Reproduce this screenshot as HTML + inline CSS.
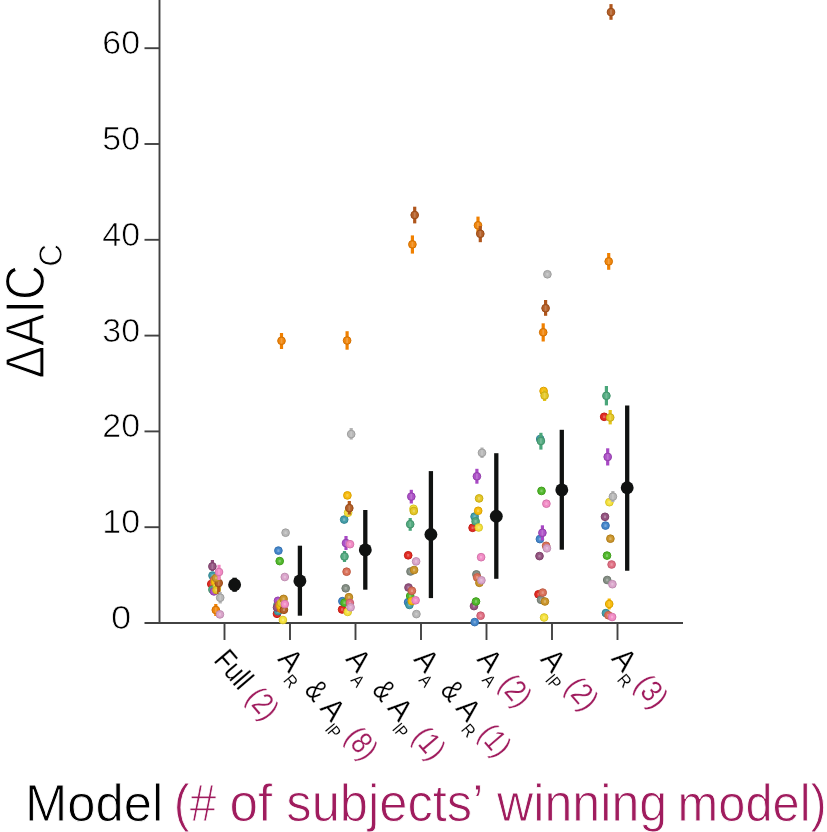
<!DOCTYPE html>
<html><head><meta charset="utf-8"><title>Model comparison</title>
<style>
html,body{margin:0;padding:0;background:#fff;}
svg{display:block;font-family:"Liberation Sans",sans-serif;}
.tk{font-size:33px;fill:#000;text-anchor:middle;stroke:#fff;stroke-width:0.7px;}
.xl{font-size:29px;fill:#000;}
.mg{fill:#a01c5e;}
</style></head><body>
<svg width="827" height="832" viewBox="0 0 827 832">
<rect width="827" height="832" fill="#fff"/>

<g stroke="#424242" stroke-width="1.9" fill="none">
<line x1="159.5" y1="0" x2="159.5" y2="623.9"/>
<line x1="144.5" y1="623.0" x2="683" y2="623.0"/>
<line x1="144.5" y1="527.2" x2="159.5" y2="527.2"/>
<line x1="144.5" y1="431.4" x2="159.5" y2="431.4"/>
<line x1="144.5" y1="335.6" x2="159.5" y2="335.6"/>
<line x1="144.5" y1="239.8" x2="159.5" y2="239.8"/>
<line x1="144.5" y1="144.0" x2="159.5" y2="144.0"/>
<line x1="144.5" y1="48.2" x2="159.5" y2="48.2"/>
<line x1="224.5" y1="623.0" x2="224.5" y2="640"/>
<line x1="290.0" y1="623.0" x2="290.0" y2="640"/>
<line x1="355.5" y1="623.0" x2="355.5" y2="640"/>
<line x1="421.0" y1="623.0" x2="421.0" y2="640"/>
<line x1="486.5" y1="623.0" x2="486.5" y2="640"/>
<line x1="552.0" y1="623.0" x2="552.0" y2="640"/>
<line x1="617.5" y1="623.0" x2="617.5" y2="640"/>
</g>
<text class="tk" x="121.2" y="628.9" textLength="20.2" lengthAdjust="spacingAndGlyphs">0</text>
<text class="tk" x="121.2" y="533.1" textLength="37.8" lengthAdjust="spacingAndGlyphs">10</text>
<text class="tk" x="121.2" y="437.3" textLength="37.8" lengthAdjust="spacingAndGlyphs">20</text>
<text class="tk" x="121.2" y="341.5" textLength="37.8" lengthAdjust="spacingAndGlyphs">30</text>
<text class="tk" x="121.2" y="245.7" textLength="37.8" lengthAdjust="spacingAndGlyphs">40</text>
<text class="tk" x="121.2" y="149.9" textLength="37.8" lengthAdjust="spacingAndGlyphs">50</text>
<text class="tk" x="121.2" y="54.1" textLength="37.8" lengthAdjust="spacingAndGlyphs">60</text>
<g stroke="#fff" stroke-width="1.2" fill="#000"><text transform="translate(44.2,378.4) rotate(-90)" font-size="56" textLength="113.5" lengthAdjust="spacingAndGlyphs">ΔAIC</text><text transform="translate(61.6,266.8) rotate(-90)" font-size="32.5" stroke-width="0.8" textLength="22.8" lengthAdjust="spacingAndGlyphs">C</text></g>
<g>
<circle cx="211.3" cy="584" r="3.85" fill="#e12d25" stroke="#c51c15" stroke-width="1"/>
<rect x="210.2" y="582.7" width="2.2" height="2.6" fill="#fff" fill-opacity="0.28"/>
<circle cx="277" cy="613.8" r="3.85" fill="#e12d25" stroke="#c51c15" stroke-width="1"/>
<rect x="275.9" y="612.5" width="2.2" height="2.6" fill="#fff" fill-opacity="0.28"/>
<circle cx="342.1" cy="609.5" r="3.85" fill="#e12d25" stroke="#c51c15" stroke-width="1"/>
<rect x="341.0" y="608.2" width="2.2" height="2.6" fill="#fff" fill-opacity="0.28"/>
<circle cx="408.2" cy="555.3" r="3.85" fill="#e12d25" stroke="#c51c15" stroke-width="1"/>
<rect x="407.1" y="554.0" width="2.2" height="2.6" fill="#fff" fill-opacity="0.28"/>
<circle cx="472.6" cy="527.8" r="3.85" fill="#e12d25" stroke="#c51c15" stroke-width="1"/>
<rect x="471.5" y="526.5" width="2.2" height="2.6" fill="#fff" fill-opacity="0.28"/>
<circle cx="538.5" cy="594.3" r="3.85" fill="#e12d25" stroke="#c51c15" stroke-width="1"/>
<rect x="537.4" y="593.0" width="2.2" height="2.6" fill="#fff" fill-opacity="0.28"/>
<circle cx="604.2" cy="416.8" r="3.85" fill="#e12d25" stroke="#c51c15" stroke-width="1"/>
<rect x="603.1" y="415.5" width="2.2" height="2.6" fill="#fff" fill-opacity="0.28"/>
<circle cx="278.4" cy="550.6" r="3.85" fill="#4587cb" stroke="#3370b0" stroke-width="1"/>
<rect x="277.3" y="549.3" width="2.2" height="2.6" fill="#fff" fill-opacity="0.28"/>
<circle cx="342.4" cy="601.2" r="3.85" fill="#4587cb" stroke="#3370b0" stroke-width="1"/>
<rect x="341.3" y="599.9" width="2.2" height="2.6" fill="#fff" fill-opacity="0.28"/>
<circle cx="408.1" cy="602.2" r="3.85" fill="#4587cb" stroke="#3370b0" stroke-width="1"/>
<rect x="407.0" y="600.9" width="2.2" height="2.6" fill="#fff" fill-opacity="0.28"/>
<circle cx="474.7" cy="622.1" r="3.85" fill="#4587cb" stroke="#3370b0" stroke-width="1"/>
<rect x="473.6" y="620.8" width="2.2" height="2.6" fill="#fff" fill-opacity="0.28"/>
<circle cx="539.9" cy="539.1" r="3.85" fill="#4587cb" stroke="#3370b0" stroke-width="1"/>
<rect x="538.8" y="537.8" width="2.2" height="2.6" fill="#fff" fill-opacity="0.28"/>
<circle cx="605.5" cy="525.6" r="3.85" fill="#4587cb" stroke="#3370b0" stroke-width="1"/>
<rect x="604.4" y="524.3" width="2.2" height="2.6" fill="#fff" fill-opacity="0.28"/>
<circle cx="212.5" cy="575.5" r="3.85" fill="#459ea9" stroke="#338590" stroke-width="1"/>
<rect x="211.4" y="574.2" width="2.2" height="2.6" fill="#fff" fill-opacity="0.28"/>
<circle cx="278.1" cy="611.2" r="3.85" fill="#459ea9" stroke="#338590" stroke-width="1"/>
<rect x="277.0" y="609.9" width="2.2" height="2.6" fill="#fff" fill-opacity="0.28"/>
<circle cx="344.2" cy="519.6" r="3.85" fill="#459ea9" stroke="#338590" stroke-width="1"/>
<rect x="343.1" y="518.3" width="2.2" height="2.6" fill="#fff" fill-opacity="0.28"/>
<circle cx="409.4" cy="604.9" r="3.85" fill="#459ea9" stroke="#338590" stroke-width="1"/>
<rect x="408.3" y="603.6" width="2.2" height="2.6" fill="#fff" fill-opacity="0.28"/>
<circle cx="474.6" cy="516.6" r="3.85" fill="#459ea9" stroke="#338590" stroke-width="1"/>
<rect x="473.5" y="515.3" width="2.2" height="2.6" fill="#fff" fill-opacity="0.28"/>
<circle cx="540.2" cy="439" r="3.85" fill="#459ea9" stroke="#338590" stroke-width="1"/>
<rect x="539.1" y="437.7" width="2.2" height="2.6" fill="#fff" fill-opacity="0.28"/>
<circle cx="605.9" cy="613.1" r="3.85" fill="#459ea9" stroke="#338590" stroke-width="1"/>
<rect x="604.8" y="611.8" width="2.2" height="2.6" fill="#fff" fill-opacity="0.28"/>
<circle cx="212.4" cy="589.6" r="3.85" fill="#54ab81" stroke="#41926b" stroke-width="1"/>
<rect x="211.3" y="588.3" width="2.2" height="2.6" fill="#fff" fill-opacity="0.28"/>
<circle cx="277.6" cy="604.5" r="3.85" fill="#54ab81" stroke="#41926b" stroke-width="1"/>
<rect x="276.5" y="603.2" width="2.2" height="2.6" fill="#fff" fill-opacity="0.28"/>
<line x1="344.5" y1="551" x2="344.5" y2="562" stroke="#4aa67a" stroke-width="3.2"/>
<circle cx="344.5" cy="556.5" r="3.85" fill="#54ab81" stroke="#41926b" stroke-width="1"/>
<rect x="343.6" y="553.9" width="1.8" height="5.2" fill="#fff" fill-opacity="0.2"/>
<line x1="410.2" y1="518" x2="410.2" y2="530.8" stroke="#4aa67a" stroke-width="3.2"/>
<circle cx="410.2" cy="524.2" r="3.85" fill="#54ab81" stroke="#41926b" stroke-width="1"/>
<rect x="409.3" y="521.6" width="1.8" height="5.2" fill="#fff" fill-opacity="0.2"/>
<circle cx="475.6" cy="521.4" r="3.85" fill="#54ab81" stroke="#41926b" stroke-width="1"/>
<rect x="474.5" y="520.1" width="2.2" height="2.6" fill="#fff" fill-opacity="0.28"/>
<line x1="540.9" y1="432.8" x2="540.9" y2="449.6" stroke="#4aa67a" stroke-width="3.2"/>
<circle cx="540.9" cy="441" r="3.85" fill="#54ab81" stroke="#41926b" stroke-width="1"/>
<rect x="540.0" y="438.4" width="1.8" height="5.2" fill="#fff" fill-opacity="0.2"/>
<line x1="606.4" y1="386" x2="606.4" y2="405.4" stroke="#4aa67a" stroke-width="3.2"/>
<circle cx="606.4" cy="395.8" r="3.85" fill="#54ab81" stroke="#41926b" stroke-width="1"/>
<rect x="605.5" y="393.2" width="1.8" height="5.2" fill="#fff" fill-opacity="0.2"/>
<line x1="212.4" y1="560" x2="212.4" y2="571" stroke="#8e4a78" stroke-width="3.2"/>
<circle cx="212.4" cy="566.4" r="3.85" fill="#945480" stroke="#7c4169" stroke-width="1"/>
<rect x="211.5" y="563.8" width="1.8" height="5.2" fill="#fff" fill-opacity="0.2"/>
<circle cx="277" cy="607.5" r="3.85" fill="#945480" stroke="#7c4169" stroke-width="1"/>
<rect x="275.9" y="606.2" width="2.2" height="2.6" fill="#fff" fill-opacity="0.28"/>
<circle cx="408.5" cy="587.5" r="3.85" fill="#945480" stroke="#7c4169" stroke-width="1"/>
<rect x="407.4" y="586.2" width="2.2" height="2.6" fill="#fff" fill-opacity="0.28"/>
<circle cx="474" cy="606.1" r="3.85" fill="#945480" stroke="#7c4169" stroke-width="1"/>
<rect x="472.9" y="604.8" width="2.2" height="2.6" fill="#fff" fill-opacity="0.28"/>
<circle cx="539.5" cy="556.1" r="3.85" fill="#945480" stroke="#7c4169" stroke-width="1"/>
<rect x="538.4" y="554.8" width="2.2" height="2.6" fill="#fff" fill-opacity="0.28"/>
<circle cx="605" cy="516.8" r="3.85" fill="#945480" stroke="#7c4169" stroke-width="1"/>
<rect x="603.9" y="515.5" width="2.2" height="2.6" fill="#fff" fill-opacity="0.28"/>
<circle cx="279.7" cy="561.1" r="3.85" fill="#52b82d" stroke="#3f9e1c" stroke-width="1"/>
<rect x="278.6" y="559.8" width="2.2" height="2.6" fill="#fff" fill-opacity="0.28"/>
<circle cx="344.5" cy="602.7" r="3.85" fill="#52b82d" stroke="#3f9e1c" stroke-width="1"/>
<rect x="343.4" y="601.4" width="2.2" height="2.6" fill="#fff" fill-opacity="0.28"/>
<circle cx="410.2" cy="596" r="3.85" fill="#52b82d" stroke="#3f9e1c" stroke-width="1"/>
<rect x="409.1" y="594.7" width="2.2" height="2.6" fill="#fff" fill-opacity="0.28"/>
<circle cx="476" cy="601.5" r="3.85" fill="#52b82d" stroke="#3f9e1c" stroke-width="1"/>
<rect x="474.9" y="600.2" width="2.2" height="2.6" fill="#fff" fill-opacity="0.28"/>
<circle cx="541.5" cy="490.9" r="3.85" fill="#52b82d" stroke="#3f9e1c" stroke-width="1"/>
<rect x="540.4" y="489.6" width="2.2" height="2.6" fill="#fff" fill-opacity="0.28"/>
<circle cx="607" cy="555.6" r="3.85" fill="#52b82d" stroke="#3f9e1c" stroke-width="1"/>
<rect x="605.9" y="554.3" width="2.2" height="2.6" fill="#fff" fill-opacity="0.28"/>
<circle cx="214" cy="591.4" r="3.85" fill="#ad52c7" stroke="#933fac" stroke-width="1"/>
<rect x="212.9" y="590.1" width="2.2" height="2.6" fill="#fff" fill-opacity="0.28"/>
<circle cx="278" cy="600.8" r="3.85" fill="#ad52c7" stroke="#933fac" stroke-width="1"/>
<rect x="276.9" y="599.5" width="2.2" height="2.6" fill="#fff" fill-opacity="0.28"/>
<line x1="346" y1="536" x2="346" y2="550" stroke="#a848c4" stroke-width="3.2"/>
<circle cx="346" cy="543.1" r="3.85" fill="#ad52c7" stroke="#933fac" stroke-width="1"/>
<rect x="345.1" y="540.5" width="1.8" height="5.2" fill="#fff" fill-opacity="0.2"/>
<line x1="411.3" y1="489.8" x2="411.3" y2="503.5" stroke="#a848c4" stroke-width="3.2"/>
<circle cx="411.3" cy="496.6" r="3.85" fill="#ad52c7" stroke="#933fac" stroke-width="1"/>
<rect x="410.4" y="494.0" width="1.8" height="5.2" fill="#fff" fill-opacity="0.2"/>
<line x1="476.9" y1="468.8" x2="476.9" y2="483.7" stroke="#a848c4" stroke-width="3.2"/>
<circle cx="476.9" cy="476.3" r="3.85" fill="#ad52c7" stroke="#933fac" stroke-width="1"/>
<rect x="476.0" y="473.7" width="1.8" height="5.2" fill="#fff" fill-opacity="0.2"/>
<line x1="542.4" y1="525.3" x2="542.4" y2="540.4" stroke="#a848c4" stroke-width="3.2"/>
<circle cx="542.4" cy="532.8" r="3.85" fill="#ad52c7" stroke="#933fac" stroke-width="1"/>
<rect x="541.5" y="530.2" width="1.8" height="5.2" fill="#fff" fill-opacity="0.2"/>
<line x1="607.7" y1="448.3" x2="607.7" y2="465.5" stroke="#a848c4" stroke-width="3.2"/>
<circle cx="607.7" cy="456.9" r="3.85" fill="#ad52c7" stroke="#933fac" stroke-width="1"/>
<rect x="606.8" y="454.3" width="1.8" height="5.2" fill="#fff" fill-opacity="0.2"/>
<circle cx="345.7" cy="588.3" r="3.85" fill="#858f85" stroke="#6e776e" stroke-width="1"/>
<rect x="344.6" y="587.0" width="2.2" height="2.6" fill="#fff" fill-opacity="0.28"/>
<circle cx="410.5" cy="571.5" r="3.85" fill="#858f85" stroke="#6e776e" stroke-width="1"/>
<rect x="409.4" y="570.2" width="2.2" height="2.6" fill="#fff" fill-opacity="0.28"/>
<circle cx="476.4" cy="574.4" r="3.85" fill="#858f85" stroke="#6e776e" stroke-width="1"/>
<rect x="475.3" y="573.1" width="2.2" height="2.6" fill="#fff" fill-opacity="0.28"/>
<circle cx="541" cy="599.8" r="3.85" fill="#858f85" stroke="#6e776e" stroke-width="1"/>
<rect x="539.9" y="598.5" width="2.2" height="2.6" fill="#fff" fill-opacity="0.28"/>
<circle cx="607.2" cy="580" r="3.85" fill="#858f85" stroke="#6e776e" stroke-width="1"/>
<rect x="606.1" y="578.7" width="2.2" height="2.6" fill="#fff" fill-opacity="0.28"/>
<circle cx="214" cy="580" r="3.85" fill="#db725a" stroke="#be5d46" stroke-width="1"/>
<rect x="212.9" y="578.7" width="2.2" height="2.6" fill="#fff" fill-opacity="0.28"/>
<circle cx="279" cy="605" r="3.85" fill="#db725a" stroke="#be5d46" stroke-width="1"/>
<rect x="277.9" y="603.7" width="2.2" height="2.6" fill="#fff" fill-opacity="0.28"/>
<circle cx="346.6" cy="571.7" r="3.85" fill="#db725a" stroke="#be5d46" stroke-width="1"/>
<rect x="345.5" y="570.4" width="2.2" height="2.6" fill="#fff" fill-opacity="0.28"/>
<circle cx="411.9" cy="590.8" r="3.85" fill="#db725a" stroke="#be5d46" stroke-width="1"/>
<rect x="410.8" y="589.5" width="2.2" height="2.6" fill="#fff" fill-opacity="0.28"/>
<circle cx="477.2" cy="577.4" r="3.85" fill="#db725a" stroke="#be5d46" stroke-width="1"/>
<rect x="476.1" y="576.1" width="2.2" height="2.6" fill="#fff" fill-opacity="0.28"/>
<circle cx="546.1" cy="545.8" r="3.85" fill="#db725a" stroke="#be5d46" stroke-width="1"/>
<rect x="545.0" y="544.5" width="2.2" height="2.6" fill="#fff" fill-opacity="0.28"/>
<circle cx="542.7" cy="592.6" r="3.85" fill="#db725a" stroke="#be5d46" stroke-width="1"/>
<rect x="541.6" y="591.3" width="2.2" height="2.6" fill="#fff" fill-opacity="0.28"/>
<circle cx="608.4" cy="615.3" r="3.85" fill="#db725a" stroke="#be5d46" stroke-width="1"/>
<rect x="607.3" y="614.0" width="2.2" height="2.6" fill="#fff" fill-opacity="0.28"/>
<line x1="215.8" y1="604" x2="215.8" y2="616" stroke="#f08000" stroke-width="3.2"/>
<circle cx="215.8" cy="610" r="3.85" fill="#f0870f" stroke="#d37000" stroke-width="1"/>
<rect x="214.9" y="607.4" width="1.8" height="5.2" fill="#fff" fill-opacity="0.2"/>
<circle cx="281" cy="608.7" r="3.85" fill="#f0870f" stroke="#d37000" stroke-width="1"/>
<rect x="279.9" y="607.4" width="2.2" height="2.6" fill="#fff" fill-opacity="0.28"/>
<line x1="281.5" y1="333" x2="281.5" y2="349" stroke="#f08000" stroke-width="3.2"/>
<circle cx="281.5" cy="340.8" r="3.85" fill="#f0870f" stroke="#d37000" stroke-width="1"/>
<rect x="280.6" y="338.2" width="1.8" height="5.2" fill="#fff" fill-opacity="0.2"/>
<line x1="347.1" y1="331.2" x2="347.1" y2="349.7" stroke="#f08000" stroke-width="3.2"/>
<circle cx="347.1" cy="340.5" r="3.85" fill="#f0870f" stroke="#d37000" stroke-width="1"/>
<rect x="346.2" y="337.9" width="1.8" height="5.2" fill="#fff" fill-opacity="0.2"/>
<line x1="412.4" y1="235.4" x2="412.4" y2="253.6" stroke="#f08000" stroke-width="3.2"/>
<circle cx="412.4" cy="244.4" r="3.85" fill="#f0870f" stroke="#d37000" stroke-width="1"/>
<rect x="411.5" y="241.8" width="1.8" height="5.2" fill="#fff" fill-opacity="0.2"/>
<line x1="478" y1="216.6" x2="478" y2="234" stroke="#f08000" stroke-width="3.2"/>
<circle cx="478" cy="225.3" r="3.85" fill="#f0870f" stroke="#d37000" stroke-width="1"/>
<rect x="477.1" y="222.7" width="1.8" height="5.2" fill="#fff" fill-opacity="0.2"/>
<line x1="543.2" y1="323.3" x2="543.2" y2="341.5" stroke="#f08000" stroke-width="3.2"/>
<circle cx="543.2" cy="332.3" r="3.85" fill="#f0870f" stroke="#d37000" stroke-width="1"/>
<rect x="542.3" y="329.7" width="1.8" height="5.2" fill="#fff" fill-opacity="0.2"/>
<line x1="608.7" y1="253" x2="608.7" y2="269.8" stroke="#f08000" stroke-width="3.2"/>
<circle cx="608.7" cy="261.4" r="3.85" fill="#f0870f" stroke="#d37000" stroke-width="1"/>
<rect x="607.8" y="258.8" width="1.8" height="5.2" fill="#fff" fill-opacity="0.2"/>
<circle cx="215" cy="582" r="3.85" fill="#f8bc0f" stroke="#daa100" stroke-width="1"/>
<rect x="213.9" y="580.7" width="2.2" height="2.6" fill="#fff" fill-opacity="0.28"/>
<circle cx="280.5" cy="606" r="3.85" fill="#f8bc0f" stroke="#daa100" stroke-width="1"/>
<rect x="279.4" y="604.7" width="2.2" height="2.6" fill="#fff" fill-opacity="0.28"/>
<circle cx="347.4" cy="495.4" r="3.85" fill="#f8bc0f" stroke="#daa100" stroke-width="1"/>
<rect x="346.3" y="494.1" width="2.2" height="2.6" fill="#fff" fill-opacity="0.28"/>
<circle cx="411.8" cy="601.1" r="3.85" fill="#f8bc0f" stroke="#daa100" stroke-width="1"/>
<rect x="410.7" y="599.8" width="2.2" height="2.6" fill="#fff" fill-opacity="0.28"/>
<circle cx="478.2" cy="510.8" r="3.85" fill="#f8bc0f" stroke="#daa100" stroke-width="1"/>
<rect x="477.1" y="509.5" width="2.2" height="2.6" fill="#fff" fill-opacity="0.28"/>
<circle cx="543.6" cy="391" r="3.85" fill="#f8bc0f" stroke="#daa100" stroke-width="1"/>
<rect x="542.5" y="389.7" width="2.2" height="2.6" fill="#fff" fill-opacity="0.28"/>
<line x1="609.2" y1="598.5" x2="609.2" y2="609.4" stroke="#f8b800" stroke-width="3.2"/>
<circle cx="609.2" cy="604" r="3.85" fill="#f8bc0f" stroke="#daa100" stroke-width="1"/>
<rect x="608.3" y="601.4" width="1.8" height="5.2" fill="#fff" fill-opacity="0.2"/>
<circle cx="217" cy="587" r="3.85" fill="#f5e13c" stroke="#d7c52a" stroke-width="1"/>
<rect x="215.9" y="585.7" width="2.2" height="2.6" fill="#fff" fill-opacity="0.28"/>
<circle cx="282.9" cy="620" r="3.85" fill="#f5e13c" stroke="#d7c52a" stroke-width="1"/>
<rect x="281.8" y="618.7" width="2.2" height="2.6" fill="#fff" fill-opacity="0.28"/>
<circle cx="347.7" cy="611.9" r="3.85" fill="#f5e13c" stroke="#d7c52a" stroke-width="1"/>
<rect x="346.6" y="610.6" width="2.2" height="2.6" fill="#fff" fill-opacity="0.28"/>
<circle cx="348.1" cy="512.7" r="3.85" fill="#f5e13c" stroke="#d7c52a" stroke-width="1"/>
<rect x="347.0" y="511.4" width="2.2" height="2.6" fill="#fff" fill-opacity="0.28"/>
<circle cx="413.5" cy="508.8" r="3.85" fill="#f5e13c" stroke="#d7c52a" stroke-width="1"/>
<rect x="412.4" y="507.5" width="2.2" height="2.6" fill="#fff" fill-opacity="0.28"/>
<circle cx="478.7" cy="527.5" r="3.85" fill="#f5e13c" stroke="#d7c52a" stroke-width="1"/>
<rect x="477.6" y="526.2" width="2.2" height="2.6" fill="#fff" fill-opacity="0.28"/>
<circle cx="544.1" cy="617.5" r="3.85" fill="#f5e13c" stroke="#d7c52a" stroke-width="1"/>
<rect x="543.0" y="616.2" width="2.2" height="2.6" fill="#fff" fill-opacity="0.28"/>
<circle cx="609.4" cy="502.2" r="3.85" fill="#f5e13c" stroke="#d7c52a" stroke-width="1"/>
<rect x="608.3" y="500.9" width="2.2" height="2.6" fill="#fff" fill-opacity="0.28"/>
<circle cx="216.5" cy="590" r="3.85" fill="#e5c727" stroke="#c8ac16" stroke-width="1"/>
<rect x="215.4" y="588.7" width="2.2" height="2.6" fill="#fff" fill-opacity="0.28"/>
<circle cx="281" cy="603" r="3.85" fill="#e5c727" stroke="#c8ac16" stroke-width="1"/>
<rect x="279.9" y="601.7" width="2.2" height="2.6" fill="#fff" fill-opacity="0.28"/>
<circle cx="413.8" cy="511" r="3.85" fill="#e5c727" stroke="#c8ac16" stroke-width="1"/>
<rect x="412.7" y="509.7" width="2.2" height="2.6" fill="#fff" fill-opacity="0.28"/>
<circle cx="479.1" cy="498.4" r="3.85" fill="#e5c727" stroke="#c8ac16" stroke-width="1"/>
<rect x="478.0" y="497.1" width="2.2" height="2.6" fill="#fff" fill-opacity="0.28"/>
<line x1="544.6" y1="390" x2="544.6" y2="401" stroke="#e4c41a" stroke-width="3.2"/>
<circle cx="544.6" cy="395.6" r="3.85" fill="#e5c727" stroke="#c8ac16" stroke-width="1"/>
<rect x="543.7" y="393.0" width="1.8" height="5.2" fill="#fff" fill-opacity="0.2"/>
<line x1="610.2" y1="410" x2="610.2" y2="424.4" stroke="#e4c41a" stroke-width="3.2"/>
<circle cx="610.2" cy="417.5" r="3.85" fill="#e5c727" stroke="#c8ac16" stroke-width="1"/>
<rect x="609.3" y="414.9" width="1.8" height="5.2" fill="#fff" fill-opacity="0.2"/>
<line x1="218.7" y1="576" x2="218.7" y2="594" stroke="#b0561c" stroke-width="3.2"/>
<circle cx="218.7" cy="583" r="3.85" fill="#b46029" stroke="#9a4b18" stroke-width="1"/>
<rect x="217.8" y="580.4" width="1.8" height="5.2" fill="#fff" fill-opacity="0.2"/>
<circle cx="283.9" cy="609.8" r="3.85" fill="#b46029" stroke="#9a4b18" stroke-width="1"/>
<rect x="282.8" y="608.5" width="2.2" height="2.6" fill="#fff" fill-opacity="0.28"/>
<line x1="349.3" y1="501" x2="349.3" y2="514.6" stroke="#b0561c" stroke-width="3.2"/>
<circle cx="349.3" cy="508.1" r="3.85" fill="#b46029" stroke="#9a4b18" stroke-width="1"/>
<rect x="348.4" y="505.5" width="1.8" height="5.2" fill="#fff" fill-opacity="0.2"/>
<line x1="414.7" y1="206.7" x2="414.7" y2="223.4" stroke="#b0561c" stroke-width="3.2"/>
<circle cx="414.7" cy="215" r="3.85" fill="#b46029" stroke="#9a4b18" stroke-width="1"/>
<rect x="413.8" y="212.4" width="1.8" height="5.2" fill="#fff" fill-opacity="0.2"/>
<line x1="480.3" y1="226" x2="480.3" y2="242.2" stroke="#b0561c" stroke-width="3.2"/>
<circle cx="480.3" cy="233.8" r="3.85" fill="#b46029" stroke="#9a4b18" stroke-width="1"/>
<rect x="479.4" y="231.2" width="1.8" height="5.2" fill="#fff" fill-opacity="0.2"/>
<line x1="545.6" y1="300" x2="545.6" y2="315.8" stroke="#b0561c" stroke-width="3.2"/>
<circle cx="545.6" cy="308.2" r="3.85" fill="#b46029" stroke="#9a4b18" stroke-width="1"/>
<rect x="544.7" y="305.6" width="1.8" height="5.2" fill="#fff" fill-opacity="0.2"/>
<line x1="611" y1="4.1" x2="611" y2="19.8" stroke="#b0561c" stroke-width="3.2"/>
<circle cx="611" cy="12.1" r="3.85" fill="#b46029" stroke="#9a4b18" stroke-width="1"/>
<rect x="610.1" y="9.5" width="1.8" height="5.2" fill="#fff" fill-opacity="0.2"/>
<circle cx="216" cy="578" r="3.85" fill="#cb962d" stroke="#b07e1c" stroke-width="1"/>
<rect x="214.9" y="576.7" width="2.2" height="2.6" fill="#fff" fill-opacity="0.28"/>
<circle cx="283.6" cy="598.9" r="3.85" fill="#cb962d" stroke="#b07e1c" stroke-width="1"/>
<rect x="282.5" y="597.6" width="2.2" height="2.6" fill="#fff" fill-opacity="0.28"/>
<circle cx="348.9" cy="597.2" r="3.85" fill="#cb962d" stroke="#b07e1c" stroke-width="1"/>
<rect x="347.8" y="595.9" width="2.2" height="2.6" fill="#fff" fill-opacity="0.28"/>
<circle cx="414.1" cy="570" r="3.85" fill="#cb962d" stroke="#b07e1c" stroke-width="1"/>
<rect x="413.0" y="568.7" width="2.2" height="2.6" fill="#fff" fill-opacity="0.28"/>
<circle cx="479.4" cy="582.8" r="3.85" fill="#cb962d" stroke="#b07e1c" stroke-width="1"/>
<rect x="478.3" y="581.5" width="2.2" height="2.6" fill="#fff" fill-opacity="0.28"/>
<circle cx="544.9" cy="601.5" r="3.85" fill="#cb962d" stroke="#b07e1c" stroke-width="1"/>
<rect x="543.8" y="600.2" width="2.2" height="2.6" fill="#fff" fill-opacity="0.28"/>
<circle cx="610.4" cy="538.7" r="3.85" fill="#cb962d" stroke="#b07e1c" stroke-width="1"/>
<rect x="609.3" y="537.4" width="2.2" height="2.6" fill="#fff" fill-opacity="0.28"/>
<circle cx="349.9" cy="603" r="3.85" fill="#e17185" stroke="#c55b6e" stroke-width="1"/>
<rect x="348.8" y="601.7" width="2.2" height="2.6" fill="#fff" fill-opacity="0.28"/>
<circle cx="480.6" cy="615.7" r="3.85" fill="#e17185" stroke="#c55b6e" stroke-width="1"/>
<rect x="479.5" y="614.4" width="2.2" height="2.6" fill="#fff" fill-opacity="0.28"/>
<circle cx="611.6" cy="564.5" r="3.85" fill="#e17185" stroke="#c55b6e" stroke-width="1"/>
<rect x="610.5" y="563.2" width="2.2" height="2.6" fill="#fff" fill-opacity="0.28"/>
<line x1="219" y1="564.8" x2="219" y2="580" stroke="#f284c2" stroke-width="3.2"/>
<circle cx="219" cy="572" r="3.85" fill="#f28bc5" stroke="#d474aa" stroke-width="1"/>
<rect x="218.1" y="569.4" width="1.8" height="5.2" fill="#fff" fill-opacity="0.2"/>
<circle cx="284.8" cy="604.1" r="3.85" fill="#f28bc5" stroke="#d474aa" stroke-width="1"/>
<rect x="283.7" y="602.8" width="2.2" height="2.6" fill="#fff" fill-opacity="0.28"/>
<circle cx="350" cy="544.2" r="3.85" fill="#f28bc5" stroke="#d474aa" stroke-width="1"/>
<rect x="348.9" y="542.9" width="2.2" height="2.6" fill="#fff" fill-opacity="0.28"/>
<circle cx="415.6" cy="600.3" r="3.85" fill="#f28bc5" stroke="#d474aa" stroke-width="1"/>
<rect x="414.5" y="599.0" width="2.2" height="2.6" fill="#fff" fill-opacity="0.28"/>
<circle cx="481.1" cy="557.2" r="3.85" fill="#f28bc5" stroke="#d474aa" stroke-width="1"/>
<rect x="480.0" y="555.9" width="2.2" height="2.6" fill="#fff" fill-opacity="0.28"/>
<circle cx="546.4" cy="503.7" r="3.85" fill="#f28bc5" stroke="#d474aa" stroke-width="1"/>
<rect x="545.3" y="502.4" width="2.2" height="2.6" fill="#fff" fill-opacity="0.28"/>
<circle cx="612.1" cy="617" r="3.85" fill="#f28bc5" stroke="#d474aa" stroke-width="1"/>
<rect x="611.0" y="615.7" width="2.2" height="2.6" fill="#fff" fill-opacity="0.28"/>
<line x1="220.2" y1="592" x2="220.2" y2="603.5" stroke="#b4b4b4" stroke-width="3.2"/>
<circle cx="220.2" cy="597.7" r="3.85" fill="#b8b8b8" stroke="#9e9e9e" stroke-width="1"/>
<rect x="219.3" y="595.1" width="1.8" height="5.2" fill="#fff" fill-opacity="0.2"/>
<circle cx="285.6" cy="532.7" r="3.85" fill="#b8b8b8" stroke="#9e9e9e" stroke-width="1"/>
<rect x="284.5" y="531.4" width="2.2" height="2.6" fill="#fff" fill-opacity="0.28"/>
<line x1="351.2" y1="428" x2="351.2" y2="439.6" stroke="#b4b4b4" stroke-width="3.2"/>
<circle cx="351.2" cy="434.1" r="3.85" fill="#b8b8b8" stroke="#9e9e9e" stroke-width="1"/>
<rect x="350.3" y="431.5" width="1.8" height="5.2" fill="#fff" fill-opacity="0.2"/>
<circle cx="416.4" cy="614.1" r="3.85" fill="#b8b8b8" stroke="#9e9e9e" stroke-width="1"/>
<rect x="415.3" y="612.8" width="2.2" height="2.6" fill="#fff" fill-opacity="0.28"/>
<line x1="482" y1="447.5" x2="482" y2="458" stroke="#b4b4b4" stroke-width="3.2"/>
<circle cx="482" cy="452.8" r="3.85" fill="#b8b8b8" stroke="#9e9e9e" stroke-width="1"/>
<rect x="481.1" y="450.2" width="1.8" height="5.2" fill="#fff" fill-opacity="0.2"/>
<circle cx="547.4" cy="274.3" r="3.85" fill="#b8b8b8" stroke="#9e9e9e" stroke-width="1"/>
<rect x="546.3" y="273.0" width="2.2" height="2.6" fill="#fff" fill-opacity="0.28"/>
<line x1="612.9" y1="491" x2="612.9" y2="502" stroke="#b4b4b4" stroke-width="3.2"/>
<circle cx="612.9" cy="496.6" r="3.85" fill="#b8b8b8" stroke="#9e9e9e" stroke-width="1"/>
<rect x="612.0" y="494.0" width="1.8" height="5.2" fill="#fff" fill-opacity="0.2"/>
<circle cx="219.9" cy="614.4" r="3.85" fill="#daa5cb" stroke="#be8cb0" stroke-width="1"/>
<rect x="218.8" y="613.1" width="2.2" height="2.6" fill="#fff" fill-opacity="0.28"/>
<circle cx="284.8" cy="577" r="3.85" fill="#daa5cb" stroke="#be8cb0" stroke-width="1"/>
<rect x="283.7" y="575.7" width="2.2" height="2.6" fill="#fff" fill-opacity="0.28"/>
<circle cx="350.6" cy="607.3" r="3.85" fill="#daa5cb" stroke="#be8cb0" stroke-width="1"/>
<rect x="349.5" y="606.0" width="2.2" height="2.6" fill="#fff" fill-opacity="0.28"/>
<circle cx="416.1" cy="561.4" r="3.85" fill="#daa5cb" stroke="#be8cb0" stroke-width="1"/>
<rect x="415.0" y="560.1" width="2.2" height="2.6" fill="#fff" fill-opacity="0.28"/>
<circle cx="481.4" cy="580.3" r="3.85" fill="#daa5cb" stroke="#be8cb0" stroke-width="1"/>
<rect x="480.3" y="579.0" width="2.2" height="2.6" fill="#fff" fill-opacity="0.28"/>
<circle cx="546.9" cy="548.3" r="3.85" fill="#daa5cb" stroke="#be8cb0" stroke-width="1"/>
<rect x="545.8" y="547.0" width="2.2" height="2.6" fill="#fff" fill-opacity="0.28"/>
<circle cx="612.4" cy="584.2" r="3.85" fill="#daa5cb" stroke="#be8cb0" stroke-width="1"/>
<rect x="611.3" y="582.9" width="2.2" height="2.6" fill="#fff" fill-opacity="0.28"/>
</g>
<g fill="#101211" stroke="#101211">
<line x1="234.6" y1="577.7" x2="234.6" y2="591.8" stroke-width="4.3"/>
<circle cx="234.6" cy="584.7" r="6.45" stroke="none"/>
<line x1="299.9" y1="545.7" x2="299.9" y2="615.7" stroke-width="4.3"/>
<circle cx="299.9" cy="580.9" r="6.45" stroke="none"/>
<line x1="365.3" y1="510" x2="365.3" y2="589.7" stroke-width="4.3"/>
<circle cx="365.3" cy="549.9" r="6.45" stroke="none"/>
<line x1="430.9" y1="471.1" x2="430.9" y2="598.1" stroke-width="4.3"/>
<circle cx="430.9" cy="534.5" r="6.45" stroke="none"/>
<line x1="496.3" y1="453.2" x2="496.3" y2="578.8" stroke-width="4.3"/>
<circle cx="496.3" cy="516.3" r="6.45" stroke="none"/>
<line x1="561.8" y1="429.8" x2="561.8" y2="549.7" stroke-width="4.3"/>
<circle cx="561.8" cy="489.9" r="6.45" stroke="none"/>
<line x1="627.2" y1="405.4" x2="627.2" y2="570.7" stroke-width="4.3"/>
<circle cx="627.2" cy="487.8" r="6.45" stroke="none"/>
</g>
<g fill="#000" stroke="#fff">
<g transform="translate(214.2,662.3) rotate(49.5)"><text transform="translate(-2.10,0) scale(0.839,1.03)" font-size="29.8" stroke-width="0.2">Full</text><text transform="translate(47.40,0) scale(0.849,1.03)" font-size="29.8" stroke-width="0.2" class="mg">(2)</text></g>
<g transform="translate(277.4,660.1) rotate(49.5)"><text transform="translate(-0.84,0) scale(0.956,1.03)" font-size="29.8" stroke-width="0.2">A</text><text transform="translate(19.00,9.6) scale(0.933,1.03)" font-size="17" stroke-width="0.1">R</text><text transform="translate(40.28,0) scale(0.817,1.03)" font-size="29.8" stroke-width="0.2">&amp;</text><text transform="translate(64.06,0) scale(0.956,1.03)" font-size="29.8" stroke-width="0.2">A</text><text transform="translate(83.26,9.6) scale(0.823,1.03)" font-size="17" stroke-width="0.1">IP</text><text transform="translate(102.18,0) scale(0.862,1.03)" font-size="29.8" stroke-width="0.2" class="mg">(8)</text></g>
<g transform="translate(345.2,660.2) rotate(49.5)"><text transform="translate(-0.84,0) scale(0.956,1.03)" font-size="29.8" stroke-width="0.2">A</text><text transform="translate(18.47,9.6) scale(0.900,1.03)" font-size="17" stroke-width="0.1">A</text><text transform="translate(40.28,0) scale(0.817,1.03)" font-size="29.8" stroke-width="0.2">&amp;</text><text transform="translate(63.46,0) scale(0.956,1.03)" font-size="29.8" stroke-width="0.2">A</text><text transform="translate(82.66,9.6) scale(0.823,1.03)" font-size="17" stroke-width="0.1">IP</text><text transform="translate(101.86,0) scale(0.871,1.03)" font-size="29.8" stroke-width="0.2" class="mg">(1)</text></g>
<g transform="translate(413.4,660.3) rotate(49.5)"><text transform="translate(-0.84,0) scale(0.956,1.03)" font-size="29.8" stroke-width="0.2">A</text><text transform="translate(18.47,9.6) scale(0.900,1.03)" font-size="17" stroke-width="0.1">A</text><text transform="translate(40.28,0) scale(0.817,1.03)" font-size="29.8" stroke-width="0.2">&amp;</text><text transform="translate(63.56,0) scale(0.956,1.03)" font-size="29.8" stroke-width="0.2">A</text><text transform="translate(83.40,9.6) scale(0.933,1.03)" font-size="17" stroke-width="0.1">R</text><text transform="translate(98.39,0) scale(0.855,1.03)" font-size="29.8" stroke-width="0.2" class="mg">(1)</text></g>
<g transform="translate(476.5,660.3) rotate(49.5)"><text transform="translate(-0.84,0) scale(0.956,1.03)" font-size="29.8" stroke-width="0.2">A</text><text transform="translate(18.47,9.6) scale(0.900,1.03)" font-size="17" stroke-width="0.1">A</text><text transform="translate(32.68,0) scale(0.862,1.03)" font-size="29.8" stroke-width="0.2" class="mg">(2)</text></g>
<g transform="translate(540.0,660.3) rotate(49.5)"><text transform="translate(-0.84,0) scale(0.956,1.03)" font-size="29.8" stroke-width="0.2">A</text><text transform="translate(18.36,9.6) scale(0.823,1.03)" font-size="17" stroke-width="0.1">IP</text><text transform="translate(36.53,0) scale(0.883,1.03)" font-size="29.8" stroke-width="0.2" class="mg">(2)</text></g>
<g transform="translate(611.1,659.6) rotate(49.5)"><text transform="translate(-0.84,0) scale(0.956,1.03)" font-size="29.8" stroke-width="0.2">A</text><text transform="translate(19.00,9.6) scale(0.933,1.03)" font-size="17" stroke-width="0.1">R</text><text transform="translate(34.02,0) scale(0.892,1.03)" font-size="29.8" stroke-width="0.2" class="mg">(3)</text></g>
</g>
<g stroke="#fff">
<text transform="translate(25.02,820.6) scale(0.986,1)" font-size="51.5" stroke-width="0.9" fill="#000">Model</text>
<text transform="translate(173.83,820.6) scale(0.926,1)" font-size="51.5" stroke-width="0.9" class="mg">(#</text>
<text transform="translate(229.51,820.6) scale(0.995,1)" font-size="51.5" stroke-width="0.9" class="mg">of</text>
<text transform="translate(286.33,820.6) scale(0.984,1)" font-size="51.5" stroke-width="0.9" class="mg">subjects’</text>
<text transform="translate(497.11,820.6) scale(0.974,1)" font-size="51.5" stroke-width="0.9" class="mg">winning</text>
<text transform="translate(677.61,820.6) scale(0.948,1)" font-size="51.5" stroke-width="0.9" class="mg">model)</text>
</g>
</svg></body></html>
